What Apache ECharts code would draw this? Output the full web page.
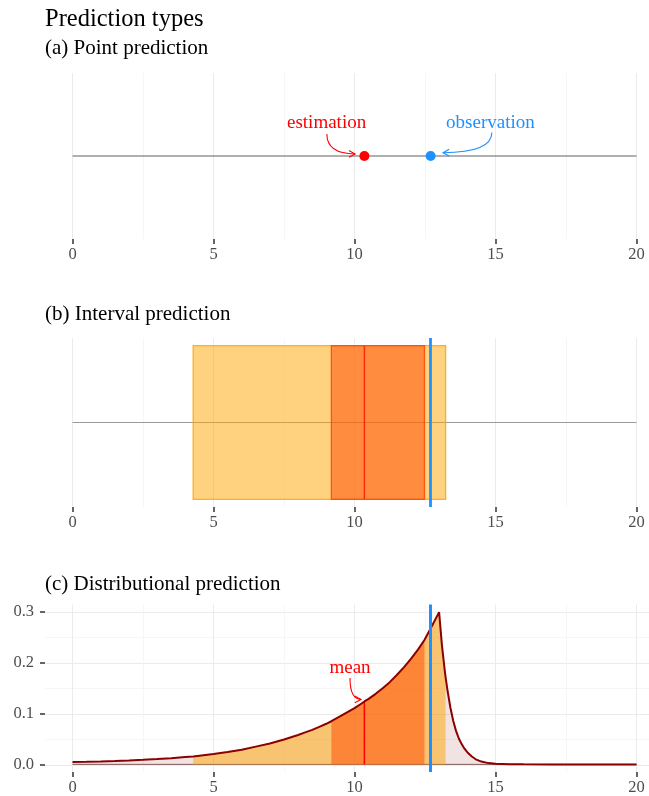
<!DOCTYPE html>
<html>
<head>
<meta charset="utf-8">
<script src="https://cdn.jsdelivr.net/npm/echarts@6/dist/echarts.min.js"></script>
<style>
  html, body { margin: 0; padding: 0; background: #fff; }
  #chart { width: 649px; height: 796px; }
</style>
</head>
<body>
<div id="chart"></div>
<script>
// ---- values ----
const xTicks = [0, 5, 10, 15, 20];
const densityTicks = [0, 0.1, 0.2, 0.3];
const densityMinorTicks = [0.05, 0.15, 0.25];

const pointEstimate = 10.35;   // estimation / mean
const observation = 12.7;      // observed value
const interval95 = [4.28, 13.23];
const interval50 = [9.18, 12.48];

// predictive density read along x
const densityX = [0, 0.5, 1, 1.5, 2, 2.5, 3, 3.5, 4, 4.28, 4.5, 5, 5.5, 6, 6.5, 7, 7.5,
  8, 8.25, 8.5, 8.75, 9, 9.18, 9.25, 9.5, 9.75, 10, 10.25, 10.35, 10.5, 10.75, 11, 11.25, 11.5, 11.75,
  12, 12.25, 12.48, 12.5, 12.75, 13, 13.1, 13.2, 13.23, 13.3, 13.4, 13.5, 13.6, 13.7, 13.8, 13.9,
  14, 14.15, 14.3, 14.5, 14.75, 15, 15.5, 16, 17, 18, 19, 20];
const densityY = [0.0045, 0.005, 0.0057, 0.0066, 0.0077, 0.009, 0.0105, 0.0123, 0.0145, 0.0157, 0.0172,
  0.0205, 0.0245, 0.029, 0.035, 0.041, 0.049,
  0.058, 0.063, 0.068, 0.074, 0.080, 0.085, 0.087, 0.095, 0.103, 0.111, 0.120, 0.124, 0.129, 0.139,
  0.150, 0.162, 0.176, 0.191,
  0.208, 0.226, 0.245, 0.247, 0.273, 0.300, 0.235, 0.185, 0.172, 0.145, 0.112, 0.086, 0.066, 0.051,
  0.040, 0.031,
  0.024, 0.016, 0.010, 0.0055, 0.0025, 0.0012, 0.0003, 0.0001, 0, 0, 0, 0];

const annotationText = ['estimation', 'observation', 'mean'];

// ---- helpers ----
const SERIF = '"Liberation Serif", "DejaVu Serif", serif';
const density = densityX.map((x, i) => [x, densityY[i]]);
const within = (lo, hi) => density.filter(p => p[0] >= lo - 1e-9 && p[0] <= hi + 1e-9);
const densityAt = x => density.find(p => Math.abs(p[0] - x) < 1e-9)[1];
const xMin = xTicks[0], xMax = xTicks[xTicks.length - 1];

function xAxisFor(gridIndex) {
  return {
    type: 'value', gridIndex, min: xMin, max: xMax, interval: 5, position: 'bottom',
    axisLine: { show: true, onZero: false, lineStyle: { color: 'rgba(0,0,0,0)', width: 0 } },
    axisTick: { show: true, inside: false, length: 5, lineStyle: { color: '#333333', width: 1.5 } },
    axisLabel: { color: '#4d4d4d', fontSize: 16.5, fontFamily: SERIF, margin: 7 },
    splitLine: { show: true, lineStyle: { color: '#ebebeb', width: 1 } },
    minorTick: { show: false, splitNumber: 2 },
    minorSplitLine: { show: true, lineStyle: { color: '#f4f4f4', width: 0.8 } }
  };
}
function hiddenY(gridIndex, min, max) {
  return { type: 'value', gridIndex, min, max, show: false, splitLine: { show: false } };
}

// curved arrow + label, positions in data coordinates
function arrowItem(params, api) {
  const lab = api.coord([api.value(0), api.value(1)]);
  const s = api.coord([api.value(2), api.value(3)]);
  const e = api.coord([api.value(4), api.value(5)]);
  const color = api.value(6) === 1 ? '#1e90ff' : '#ff0000';
  const c = [s[0], e[1]];
  let dx = e[0] - c[0], dy = e[1] - c[1];
  const len = Math.hypot(dx, dy) || 1; dx /= len; dy /= len;
  const hl = 7, ang = 0.5;
  const rot = (a) => [e[0] - hl * (dx * Math.cos(a) - dy * Math.sin(a)), e[1] - hl * (dx * Math.sin(a) + dy * Math.cos(a))];
  return {
    type: 'group',
    children: [
      { type: 'text', style: { text: annotationText[params.dataIndex + (params.seriesName === 'meanNote' ? 2 : 0)],
          x: lab[0], y: lab[1], fill: color, fontSize: 19, fontFamily: SERIF, align: 'center', verticalAlign: 'middle' } },
      { type: 'bezierCurve', shape: { x1: s[0], y1: s[1], x2: e[0], y2: e[1], cpx1: c[0], cpy1: c[1] },
        style: { stroke: color, fill: null, lineWidth: 1.1 } },
      { type: 'polyline', shape: { points: [rot(ang), e, rot(-ang)] }, style: { stroke: color, fill: null, lineWidth: 1.1 } }
    ]
  };
}

const chart = echarts.init(document.getElementById('chart'), null, { renderer: 'canvas' });

const option = {
  animation: false,
  backgroundColor: '#ffffff',
  graphic: [
    { type: 'text', position: [45, 19.5], style: { text: 'Prediction types', fontSize: 24.5, fontFamily: SERIF, fill: '#000', verticalAlign: 'middle' } },
    { type: 'text', position: [45, 48.5], style: { text: '(a) Point prediction', fontSize: 21, fontFamily: SERIF, fill: '#000', verticalAlign: 'middle' } },
    { type: 'text', position: [45, 314], style: { text: '(b) Interval prediction', fontSize: 21, fontFamily: SERIF, fill: '#000', verticalAlign: 'middle' } },
    { type: 'text', position: [45, 584.5], style: { text: '(c) Distributional prediction', fontSize: 21, fontFamily: SERIF, fill: '#000', verticalAlign: 'middle' } }
  ],
  grid: [
    { left: 72.5, right: 12.5, top: 73, height: 166 },
    { left: 72.5, right: 12.5, top: 338, height: 169 },
    { left: 72.5, right: 12.5, top: 604.5, height: 168 },
    { left: 45, right: 0, top: 604.5, height: 168 }
  ],
  xAxis: [
    xAxisFor(0), xAxisFor(1), xAxisFor(2),
    { type: 'value', gridIndex: 3, min: 0, max: 1, show: false }
  ],
  yAxis: [
    hiddenY(0, -1.1, 1.1),
    hiddenY(1, -1.1, 1.1),
    hiddenY(2, -0.015, 0.315),
    {
      type: 'value', gridIndex: 3, min: -0.015, max: 0.315,
      axisLine: { show: false, onZero: false },
      axisTick: { show: true, length: 5, customValues: densityTicks, lineStyle: { color: '#333', width: 1.5 } },
      axisLabel: { show: true, customValues: densityTicks, color: '#4d4d4d', fontSize: 16.5, fontFamily: SERIF, margin: 11,
        formatter: v => v.toFixed(1) },
      splitLine: { show: true, lineStyle: { color: '#ebebeb', width: 1 } }
    },
    {
      type: 'value', gridIndex: 3, min: -0.015, max: 0.315,
      axisLine: { show: false, onZero: false },
      axisTick: { show: false, customValues: densityMinorTicks },
      axisLabel: { show: false, customValues: densityMinorTicks },
      splitLine: { show: true, lineStyle: { color: '#f4f4f4', width: 0.8 } }
    }
  ],
  series: [
    // (a) point prediction
    { type: 'line', xAxisIndex: 0, yAxisIndex: 0, data: [[xMin, 0], [xMax, 0]], symbol: 'none',
      lineStyle: { color: '#606060', width: 1 }, z: 2 },
    { type: 'scatter', xAxisIndex: 0, yAxisIndex: 0, data: [[pointEstimate, 0]], symbolSize: 10,
      itemStyle: { color: '#ff0000', opacity: 1 }, z: 4 },
    { type: 'scatter', xAxisIndex: 0, yAxisIndex: 0, data: [[observation, 0]], symbolSize: 10,
      itemStyle: { color: '#1e90ff', opacity: 1 }, z: 4 },
    { type: 'custom', name: 'pointNotes', xAxisIndex: 0, yAxisIndex: 0, renderItem: arrowItem, z: 5,
      encode: { x: [0, 2, 4], y: [1, 3, 5] },
      data: [[9.01, 0.437, 9.02, 0.29, 10.02, 0.027, 0], [14.82, 0.437, 14.87, 0.31, 13.14, 0.044, 1]] },

    // (b) interval prediction
    { type: 'line', xAxisIndex: 1, yAxisIndex: 1, data: [[xMin, 0], [xMax, 0]], symbol: 'none',
      lineStyle: { color: '#9a9a9a', width: 1 }, z: 1 },
    { type: 'custom', xAxisIndex: 1, yAxisIndex: 1, z: 2,
      encode: { x: [0, 1] },
      data: [[interval95[0], interval95[1], 0], [interval50[0], interval50[1], 1]],
      renderItem: (params, api) => {
        const p0 = api.coord([api.value(0), 1]);
        const p1 = api.coord([api.value(1), -1]);
        const col = api.value(2) === 1 ? '255,69,0' : '255,165,0';
        return { type: 'rect', shape: { x: p0[0], y: p0[1], width: p1[0] - p0[0], height: p1[1] - p0[1] },
          style: { fill: 'rgba(' + col + ',0.5)', stroke: 'rgba(' + col + ',0.85)', lineWidth: 1.3 } };
      } },
    { type: 'line', xAxisIndex: 1, yAxisIndex: 1, data: [[pointEstimate, -1], [pointEstimate, 1]], symbol: 'none',
      lineStyle: { color: '#ff2a0a', width: 1.5 }, z: 3 },
    { type: 'line', xAxisIndex: 1, yAxisIndex: 1, data: [], symbol: 'none', z: 4,
      markLine: { silent: true, symbol: 'none', label: { show: false },
        lineStyle: { color: '#1e90ff', width: 2.8, type: 'solid' }, data: [{ xAxis: observation }] } },

    // (c) distributional prediction
    { type: 'line', xAxisIndex: 2, yAxisIndex: 2, data: density, symbol: 'none', showSymbol: false,
      lineStyle: { width: 0 }, areaStyle: { color: '#8b0000', opacity: 0.11 }, z: 1 },
    { type: 'line', xAxisIndex: 2, yAxisIndex: 2, data: [[xMin, 0], [xMax, 0]], symbol: 'none',
      lineStyle: { color: 'rgba(90,40,40,0.75)', width: 1 }, z: 1 },
    { type: 'line', xAxisIndex: 2, yAxisIndex: 2, data: within(interval95[0], interval95[1]), symbol: 'none', showSymbol: false,
      lineStyle: { width: 0 }, areaStyle: { color: '#ffa500', opacity: 0.5 }, z: 2 },
    { type: 'line', xAxisIndex: 2, yAxisIndex: 2, data: within(interval50[0], interval50[1]), symbol: 'none', showSymbol: false,
      lineStyle: { width: 0 }, areaStyle: { color: '#ff4500', opacity: 0.5 }, z: 2 },
    { type: 'line', xAxisIndex: 2, yAxisIndex: 2, data: [[pointEstimate, 0], [pointEstimate, densityAt(pointEstimate)]], symbol: 'none',
      lineStyle: { color: '#ff0000', width: 1.5 }, z: 3 },
    { type: 'line', xAxisIndex: 2, yAxisIndex: 2, data: density, symbol: 'none', showSymbol: false,
      lineStyle: { color: '#8b0000', width: 2 }, z: 4 },
    { type: 'line', xAxisIndex: 2, yAxisIndex: 2, data: [], symbol: 'none', z: 5,
      markLine: { silent: true, symbol: 'none', label: { show: false },
        lineStyle: { color: '#1e90ff', width: 3, type: 'solid' }, data: [{ xAxis: observation }] } },
    { type: 'custom', name: 'meanNote', xAxisIndex: 2, yAxisIndex: 2, renderItem: arrowItem, z: 6,
      encode: { x: [0, 2, 4], y: [1, 3, 5] },
      data: [[9.84, 0.19, 9.84, 0.170, 10.23, 0.128, 0]] }
  ]
};

chart.setOption(option);
</script>
</body>
</html>
